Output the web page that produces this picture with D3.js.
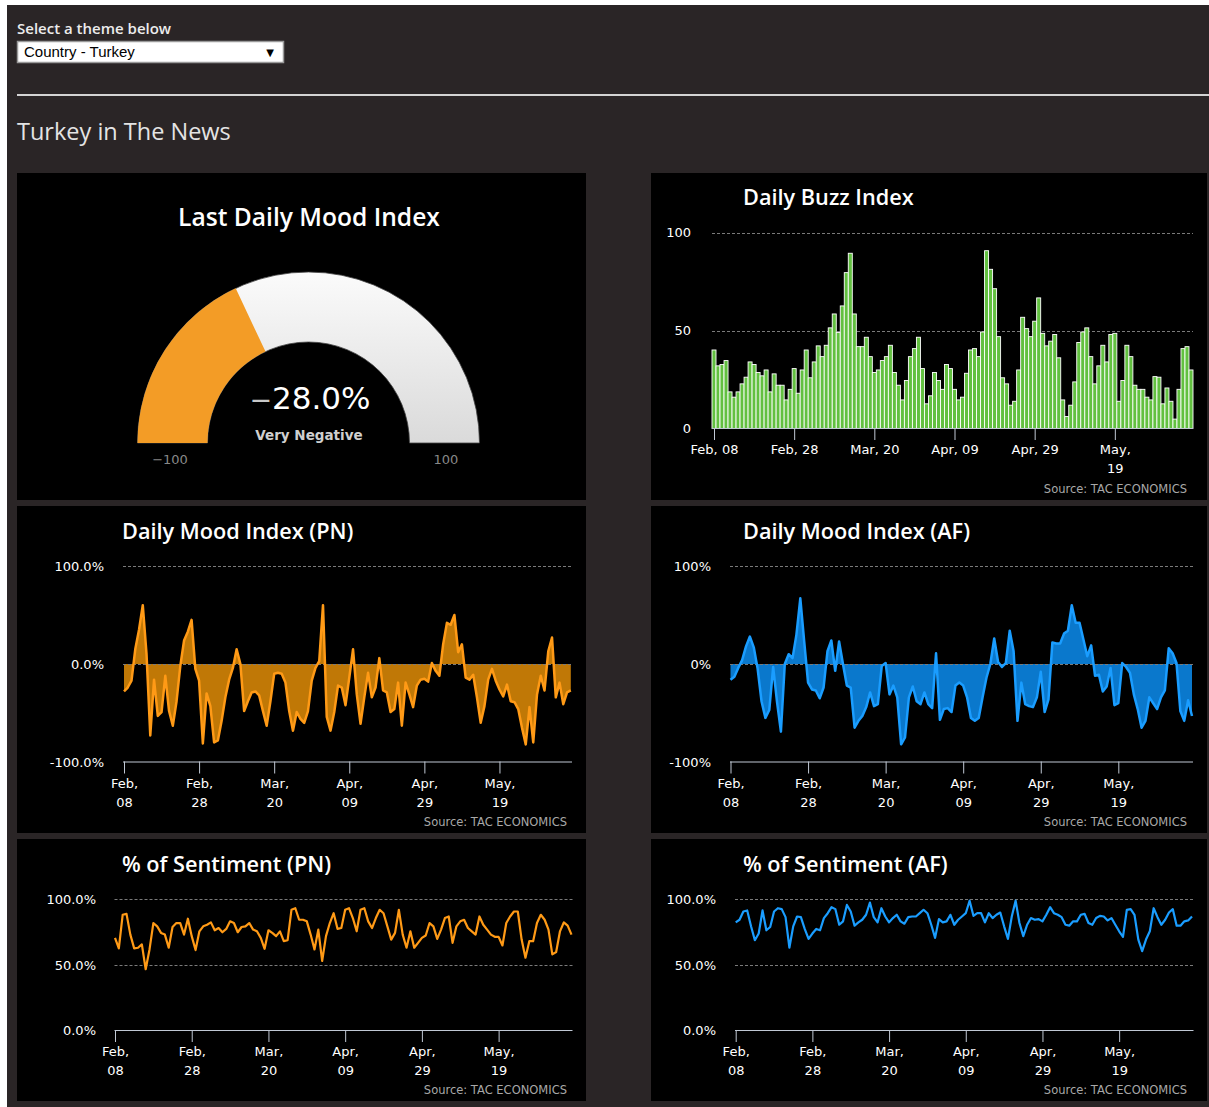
<!DOCTYPE html>
<html><head><meta charset="utf-8">
<script src="https://cdn.jsdelivr.net/npm/d3@7"></script>
<style>
html,body{margin:0;padding:0;background:#fff;}
svg{display:block;}
</style></head>
<body>
<svg id="c" width="1209" height="1107"></svg>
<script>
// ---------------- DATA ----------------
const themeLabel = "Select a theme below";
const themeValue = "Country - Turkey";
const pageTitle = "Turkey in The News";
const startDate = "2017-02-08";
const tickDates = ["2017-02-08","2017-02-28","2017-03-20","2017-04-09","2017-04-29","2017-05-19"];
const tickLabels = [["Feb,","08"],["Feb,","28"],["Mar,","20"],["Apr,","09"],["Apr,","29"],["May,","19"]];
const buzzTickLabels = [["Feb, 08"],["Feb, 28"],["Mar, 20"],["Apr, 09"],["Apr, 29"],["May,","19"]];
const gaugeValue = -28.0;
const gaugeText = "Very Negative";
const gaugeMin = -100, gaugeMax = 100;
const buzzTicks = [0, 50, 100];
const moodTicks = [-100, 0, 100];
const sentTicks = [0, 50, 100];
const sourceText = "Source: TAC ECONOMICS";

const buzzValues = [40.1,32,32.7,34.7,18.7,16,18.7,22.8,26.2,34,32.7,28.6,26.9,29.9,18.7,27.9,22.1,22.1,14.6,20,
 30.6,18,29.9,40.1,25.9,34,42.2,36.7,42.5,51.4,58.5,49,62.6,79.6,89.5,58.5,41.8,41.8,46.6,36.7,
 28.6,29.9,34.7,36.7,42.5,28.6,22.1,14.6,24.5,36.7,40.8,46.6,30.6,12.6,16.7,28.6,24.5,20,32.7,30.6,
 20,14.6,16,28.2,40.1,40.8,36.7,49.3,90.8,81.3,71.4,46.9,25.9,22.8,11.9,13.9,29.9,56.8,51,46.9,
 54.8,66.7,48.6,42.2,44.6,48,36.1,14.6,6.1,11.9,23.8,43.9,49.3,51.4,36.7,22.8,32,42.5,34,48,
 48.6,13.9,24.5,42.5,36.7,22.1,20,20,16,14.6,26.5,26.2,12.6,20.7,13.9,4.8,20,40.8,41.8,29.9];

const moodPN = [-28,-24,-17,15,35,60,10,-73,-16,-53,-49,-12,-48,-63,-38,-2,24,33,45,-5,
 -17,-81,-30,-43,-80,-78,-58,-34,-16,-4,15,0,-48,-38,-29,-28,-32,-48,-63,-38,
 -10,-9,-10,-19,-48,-68,-49,-56,-60,-48,-17,-4,3,60,-54,-68,-49,-22,-24,-42,
 -14,15,-31,-61,-34,-9,-34,-24,6,-27,-29,-49,-46,-19,-63,-19,-31,-44,-22,-16,
 -15,-18,1,-7,-12,20,42,40,50,12,20,-14,-16,-11,-34,-60,-43,-16,-5,-17,
 -26,-33,-21,-38,-39,-46,-65,-82,-44,-80,-31,-12,-27,13,27,-34,-19,-41,-29,-27];

const moodAF = [-16,-13,-4,4,18,28,17,-5,-38,-55,-47,-3,-39,-69,0,10,6,30,67,23,
 -19,-26,-27,-35,-24,13,24,-7,23,0,-22,-24,-65,-58,-53,-44,-29,-43,-41,-2,
 1,-31,-22,-34,-82,-75,-34,-23,-38,-41,-29,-41,-45,11,-57,-46,-45,-49,-22,-19,
 -22,-34,-55,-58,-55,-34,-14,0,26,2,-3,1,34,13,-58,-19,-41,-43,-44,-34,
 -8,-49,-36,22,21,21,31,34,60,42,42,25,8,19,-12,-11,-28,-23,-4,-42,
 -40,1,-3,-9,-31,-46,-65,-58,-34,-40,-46,-34,-27,16,11,1,-48,-58,-37,-53];

const sentPN = [70.6,62.6,88.2,88.9,73.1,62.6,63.1,65.6,46.7,61.8,81.9,79.4,74.4,73.1,63.1,78.9,81.9,81.9,73.1,85.2,
 71.9,61.3,75.6,79.4,80.6,82.4,76.4,78.1,74.9,77.4,83.2,81.9,74.9,78.9,79.4,81.9,76.9,75.6,70.6,62.3,
 76.4,74.4,71.9,75.6,68.1,68.8,92,93.2,84.4,84.4,83.2,73.1,61.8,76.9,53,71.9,81.9,89.4,77.5,78.1,
 92,93.2,85.7,75.6,92,93.2,83.2,78.1,85.7,92,89.4,79.4,69.3,74.4,92,73.1,63.1,75.6,63.1,66.8,
 70.6,72.4,81.9,79.4,69.8,76.9,85.7,86.9,66.8,79.4,83.2,84.4,78.1,75.6,73.1,86.9,80.6,76.9,73.1,71.4,
 71.4,64.8,81.9,86.9,90.7,90.7,69.3,55.5,68.1,68.1,81.9,88.2,84.4,76.9,58,59.8,75.6,82.4,79.9,73.1];

const sentAF = [82.4,84.4,90.7,91.5,79.4,68.8,73.9,91.5,76.4,78.9,90.7,93.2,92.5,86.4,63.1,79.4,86.9,86.4,77.4,69.8,
 73.9,77.4,76.4,85.7,89.4,94,92.5,80.6,83.2,95.7,90.7,79.9,82.4,84.4,88.2,97.5,86.4,82.4,93.2,86.9,
 82.4,85.7,88.2,83.2,81.4,86.4,86.9,86.9,89.4,92,89.4,80.6,70.6,84.9,82.4,83.2,88.2,80.6,84.4,86.9,
 89.4,98.9,87.4,89.4,89.4,82.4,89.4,85.7,88.2,89.9,79.4,69.8,86.9,98.9,81.9,71.9,80.6,85.7,84.4,84.9,
 83.2,88.2,94,89.4,88.2,86.4,80.6,79.9,83.2,83.2,88.2,88.9,81.9,80.6,85.7,87.4,86.9,83.9,85.7,80.6,
 75.6,71.4,92,92.5,88.2,69.3,60.5,69.3,75.6,93.2,86.4,80.6,84.4,89.9,92.5,79.9,79.9,83.2,83.9,86.9];

// ---------------- STYLE ----------------
const PAGE = "#2a2526", PANEL = "#000";
const AXIS = "#c0c8d4", GRID = "#7a7a7a", LABEL = "#ffffff";
const LFONT = "DejaVu Sans", TFONT = "Open Sans";
const ORANGE = "#ff9a16", ORANGE_FILL = "#c07806";
const BLUE = "#1a9dff", BLUE_FILL = "#0a78cc";
const GREEN = "#62c040", GAUGE_ORANGE = "#f39c26";

const svg = d3.select("#c");
const parseDay = d3.utcParse("%Y-%m-%d");
const day0 = parseDay(startDate);
const dates = buzzValues.map((_, i) => d3.utcDay.offset(day0, i));
const tickValues = tickDates.map(parseDay);

// page background & header
svg.append("rect").attr("x", 7).attr("y", 5).attr("width", 1202).attr("height", 1102).attr("fill", PAGE);
svg.append("text").attr("x", 17).attr("y", 34).attr("fill", "#ececec")
  .attr("font-family", TFONT).attr("font-weight", 600).attr("font-size", 15).text(themeLabel);
svg.append("rect").attr("x", 17.5).attr("y", 41.5).attr("width", 266).attr("height", 21)
  .attr("fill", "#fff").attr("stroke", "#9a9a9a").attr("stroke-width", 1.5);
svg.append("text").attr("x", 24).attr("y", 57).attr("fill", "#000")
  .attr("font-family", "Liberation Sans").attr("font-size", 15).text(themeValue);
svg.append("text").attr("x", 270).attr("y", 56).attr("text-anchor", "middle").attr("fill", "#000")
  .attr("font-family", "DejaVu Sans").attr("font-size", 10).text("▼");
svg.append("rect").attr("x", 17).attr("y", 94).attr("width", 1192).attr("height", 2).attr("fill", "#d4d4d4");
svg.append("text").attr("x", 17).attr("y", 140).attr("fill", "#e4e4e4")
  .attr("font-family", TFONT).attr("font-size", 23.5).text(pageTitle);

// panels
const panels = [[17,173,569,327],[651,173,556,327],[17,506,569,327],[651,506,556,327],[17,839,569,262],[651,839,556,262]];
svg.append("g").selectAll("rect").data(panels).join("rect")
  .attr("x", d => d[0]).attr("y", d => d[1]).attr("width", d => d[2]).attr("height", d => d[3]).attr("fill", PANEL);

function title(txt, x, y, size, anchor) {
  svg.append("text").attr("x", x).attr("y", y).attr("text-anchor", anchor || "start")
    .attr("fill", "#fff").attr("font-family", TFONT).attr("font-weight", 600)
    .attr("font-size", size).text(txt);
}
function source(xRight, y) {
  svg.append("text").attr("x", xRight).attr("y", y).attr("text-anchor", "end")
    .attr("fill", "#a8a8a8").attr("font-family", LFONT).attr("font-size", 11.5).text(sourceText);
}
function grid(y, ticks, left, right) {
  svg.append("g").selectAll("line").data(ticks).join("line")
    .attr("x1", left).attr("x2", right)
    .attr("y1", d => Math.round(y(d)) + 0.5).attr("y2", d => Math.round(y(d)) + 0.5)
    .attr("stroke", GRID).attr("stroke-width", 1).attr("stroke-dasharray", "3,2");
}
function xAxis(x, yPos, labels, left, right) {
  const g = svg.append("g").attr("transform", `translate(0,${yPos})`)
    .call(d3.axisBottom(x).tickValues(tickValues).tickSize(12).tickSizeOuter(0).tickPadding(5)
      .tickFormat((d, i) => labels[i].join(" ")));
  g.select(".domain").remove();
  g.append("line").attr("x1", left).attr("x2", right).attr("y1", 0.5).attr("y2", 0.5)
    .attr("stroke", AXIS).attr("stroke-width", 1);
  g.selectAll(".tick line").attr("stroke", AXIS);
  g.selectAll(".tick text").attr("fill", LABEL).attr("font-family", LFONT).attr("font-size", 13)
    .attr("dy", null)
    .each(function (d, i) {
      const t = d3.select(this);
      t.text(null);
      labels[i].forEach((s, k) => t.append("tspan").attr("x", 0).attr("dy", k ? "1.45em" : "0.71em").text(s));
    });
}
function yLabels(y, ticks, fmt, xRight) {
  const g = svg.append("g").attr("transform", `translate(${xRight},0)`)
    .call(d3.axisLeft(y).tickValues(ticks).tickSize(0).tickPadding(0).tickFormat(fmt));
  g.select(".domain").remove();
  g.selectAll("text").attr("fill", LABEL).attr("font-family", LFONT).attr("font-size", 13);
}
const pct1 = v => (v < 0 ? "-" : "") + Math.abs(v).toFixed(1) + "%";
const pct0 = v => (v < 0 ? "-" : "") + Math.abs(v).toFixed(0) + "%";

// ---------------- GAUGE ----------------
title("Last Daily Mood Index", 309, 226, 24.6, "middle");
(function () {
  const cx = 308.5, cy = 443, rO = 171, rI = 101;
  const ang = d3.scaleLinear().domain([gaugeMin, gaugeMax]).range([-Math.PI / 2, Math.PI / 2]);
  const defs = svg.append("defs");
  const lg = defs.append("linearGradient").attr("id", "gbg").attr("x1", 0).attr("y1", 0).attr("x2", 0).attr("y2", 1);
  lg.append("stop").attr("offset", "0%").attr("stop-color", "#fbfbfb");
  lg.append("stop").attr("offset", "100%").attr("stop-color", "#dadada");
  const arc = d3.arc().innerRadius(rI).outerRadius(rO);
  const g = svg.append("g").attr("transform", `translate(${cx},${cy})`);
  g.append("path").attr("d", arc({ startAngle: ang(gaugeMin), endAngle: ang(gaugeMax) }))
    .attr("fill", "url(#gbg)").attr("stroke", "#444").attr("stroke-width", 0.8);
  g.append("path").attr("d", arc({ startAngle: ang(gaugeMin), endAngle: ang(gaugeValue) }))
    .attr("fill", GAUGE_ORANGE);
  const vt = svg.append("text").attr("x", 310).attr("y", 409).attr("text-anchor", "middle")
    .attr("font-family", LFONT).attr("font-size", 31).attr("fill", "#fff");
  vt.append("tspan").attr("fill", "#c8c8c8").attr("font-size", 27).text(gaugeValue < 0 ? "\u2212" : "");
  vt.append("tspan").text(Math.abs(gaugeValue).toFixed(1) + "%");
  svg.append("text").attr("x", 309).attr("y", 440).attr("text-anchor", "middle")
    .attr("font-family", LFONT).attr("font-weight", 700).attr("font-size", 13.5).attr("fill", "#cfcfcf").text(gaugeText);
  svg.append("text").attr("x", 170).attr("y", 464).attr("text-anchor", "middle")
    .attr("font-family", LFONT).attr("font-size", 13).attr("fill", "#888").text("\u2212" + Math.abs(gaugeMin));
  svg.append("text").attr("x", 446).attr("y", 464).attr("text-anchor", "middle")
    .attr("font-family", LFONT).attr("font-size", 13).attr("fill", "#888").text(String(gaugeMax));
})();

// ---------------- BUZZ ----------------
title("Daily Buzz Index", 743, 205, 21.7);
(function () {
  const x = d3.scaleUtc().domain([d3.utcHour.offset(dates[0], -12), d3.utcHour.offset(dates[dates.length - 1], 12)]).range([712, 1193]);
  const y = d3.scaleLinear().domain([0, 100]).range([428.5, 232.7]);
  const bw = x(dates[1]) - x(dates[0]);
  grid(y, [50, 100], 712, 1193);
  svg.append("g").selectAll("rect").data(buzzValues).join("rect")
    .attr("x", (d, i) => x(dates[i]) - bw / 2).attr("width", bw)
    .attr("y", d => y(d)).attr("height", d => y(0) - y(d))
    .attr("fill", GREEN).attr("stroke", "#fff").attr("stroke-width", 0.9);
  xAxis(x, 428, buzzTickLabels, 712, 1193);
  yLabels(y, buzzTicks, d => String(d), 691);
  source(1187, 493);
})();

// ---------------- MOOD charts ----------------
function moodChart(values, cfg) {
  title(cfg.title, cfg.tx, 539, 21.7);
  const x = d3.scaleUtc().domain([dates[0], dates[dates.length - 1]]).range(cfg.xr);
  const y = d3.scaleLinear().domain([-100, 100]).range([762, 566]);
  const area = d3.area().x((d, i) => x(dates[i])).y0(y(0)).y1(d => y(d));
  const line = d3.line().x((d, i) => x(dates[i])).y(d => y(d));
  svg.append("path").datum(values).attr("d", area).attr("fill", cfg.fill);
  grid(y, [0, 100], cfg.gl, cfg.gr);
  svg.append("path").datum(values).attr("d", line).attr("fill", "none")
    .attr("stroke", cfg.color).attr("stroke-width", 2.5).attr("stroke-linejoin", "round");
  xAxis(x, 761.5, tickLabels, cfg.gl, cfg.gr);
  yLabels(y, moodTicks, cfg.fmt, cfg.lx);
  source(cfg.sx, 826);
}
moodChart(moodPN, { title: "Daily Mood Index (PN)", tx: 122, xr: [124, 570.8], gl: 123, gr: 572, lx: 104, sx: 567, color: ORANGE, fill: ORANGE_FILL, fmt: pct1 });
moodChart(moodAF, { title: "Daily Mood Index (AF)", tx: 743, xr: [730.5, 1192], gl: 730, gr: 1193, lx: 711, sx: 1187, color: BLUE, fill: BLUE_FILL, fmt: pct0 });

// ---------------- SENTIMENT charts ----------------
function sentChart(values, cfg) {
  title(cfg.title, cfg.tx, 872, 21.7);
  const x = d3.scaleUtc().domain([dates[0], dates[dates.length - 1]]).range(cfg.xr);
  const y = d3.scaleLinear().domain([0, 100]).range([1030.5, 899.3]);
  const line = d3.line().x((d, i) => x(dates[i])).y(d => y(d));
  grid(y, [50, 100], cfg.gl, cfg.gr);
  svg.append("path").datum(values).attr("d", line).attr("fill", "none")
    .attr("stroke", cfg.color).attr("stroke-width", 2.2).attr("stroke-linejoin", "round");
  xAxis(x, 1030, tickLabels, cfg.gl, cfg.gr);
  yLabels(y, sentTicks, pct1, cfg.lx);
  source(cfg.sx, 1094);
}
sentChart(sentPN, { title: "% of Sentiment (PN)", tx: 122, xr: [115, 571.5], gl: 114.5, gr: 572.5, lx: 96, sx: 567, color: ORANGE });
sentChart(sentAF, { title: "% of Sentiment (AF)", tx: 743, xr: [735.7, 1192], gl: 735, gr: 1193.5, lx: 716, sx: 1187, color: BLUE });
</script>
</body></html>
